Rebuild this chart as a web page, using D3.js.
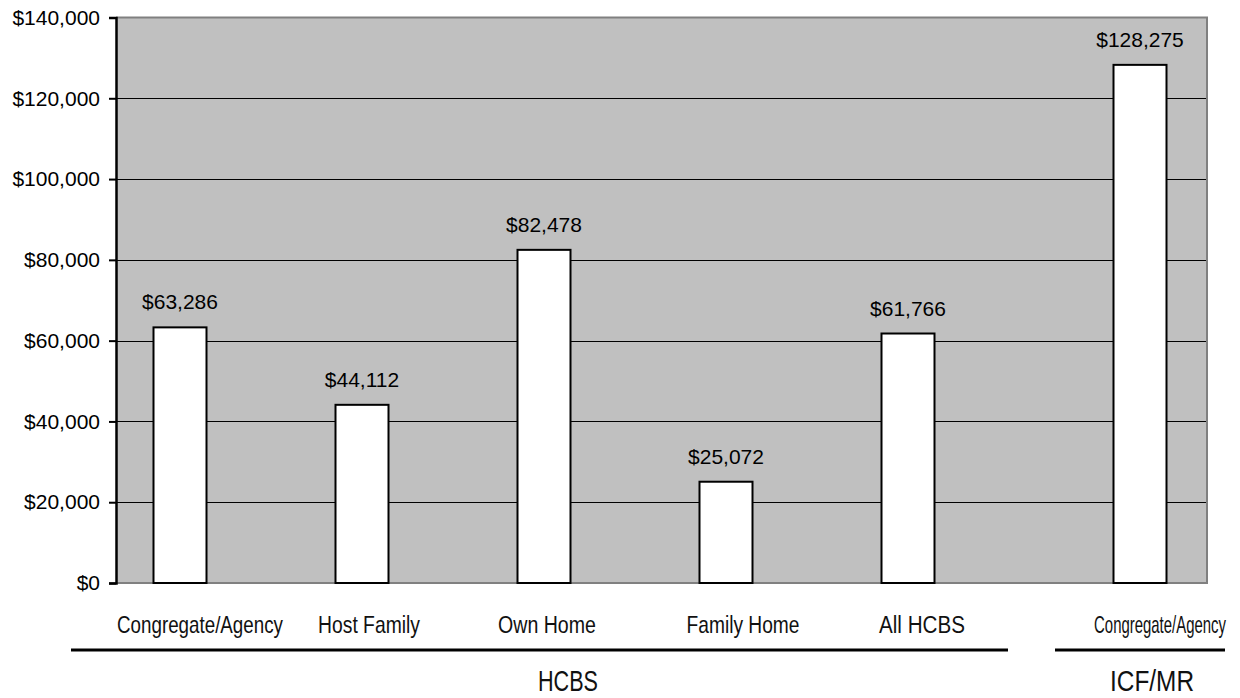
<!DOCTYPE html>
<html>
<head>
<meta charset="utf-8">
<script src="https://cdn.jsdelivr.net/npm/d3@7"></script>
<style>
  html, body { margin: 0; padding: 0; background: #ffffff; }
  svg { display: block; }
</style>
</head>
<body>
<svg id="chart" width="1240" height="698"></svg>
<script>
// ---- data ----
const hcbsCategories = ["Congregate/Agency", "Host Family", "Own Home", "Family Home", "All HCBS"];
const hcbsValues = [63286, 44112, 82478, 25072, 61766];
const icfCategories = ["Congregate/Agency"];
const icfValues = [128275];
const groupLabels = ["HCBS", "ICF/MR"];
const yTicks = [0, 20000, 40000, 60000, 80000, 100000, 120000, 140000];

// ---- layout ----
const plot = { left: 116, right: 1207, top: 17.5, bottom: 583 };
const barW = 53;
const svg = d3.select("#chart");
const narrow = "'Liberation Sans Narrow', 'Arial Narrow', 'Liberation Sans', Arial, sans-serif";
const sans = "'Liberation Sans', Arial, Helvetica, sans-serif";

const y = d3.scaleLinear().domain([0, 140000]).range([plot.bottom, plot.top]);
const xH = d3.scalePoint().domain(hcbsCategories).range([180, 908]);
const xI = d3.scalePoint().domain(icfCategories).range([1140, 1140]);

// plot background
svg.append("rect")
  .attr("x", plot.left).attr("y", plot.top)
  .attr("width", plot.right - plot.left).attr("height", plot.bottom - plot.top)
  .attr("fill", "#c0c0c0");

// gridlines
svg.append("g").selectAll("line")
  .data(yTicks.filter(t => t > 0 && t < 140000))
  .join("line")
  .attr("x1", plot.left).attr("x2", plot.right)
  .attr("y1", d => Math.round(y(d)) + 0.5).attr("y2", d => Math.round(y(d)) + 0.5)
  .attr("stroke", "#000").attr("stroke-width", 1);

// border top/right/bottom gray
svg.append("path")
  .attr("d", `M${plot.left},${plot.top} H${plot.right} V${plot.bottom} H${plot.left}`)
  .attr("fill", "none").attr("stroke", "#808080").attr("stroke-width", 2);

// y axis
const yAxis = d3.axisLeft(y).tickValues(yTicks).tickSize(7).tickPadding(9)
  .tickFormat(d => "$" + d3.format(",")(d));
const gy = svg.append("g").attr("transform", `translate(${plot.left},0)`).call(yAxis);
gy.select(".domain").attr("stroke", "#000").attr("stroke-width", 2.5);
gy.selectAll(".tick line").attr("stroke", "#000").attr("stroke-width", 2);
gy.selectAll(".tick text").attr("font-family", sans).attr("font-size", 21).attr("fill", "#000");

// bars
const allBars = hcbsCategories.map((c, i) => ({ x: xH(c), v: hcbsValues[i] }))
  .concat(icfCategories.map((c, i) => ({ x: xI(c), v: icfValues[i] })));

svg.append("g").selectAll("rect")
  .data(allBars)
  .join("rect")
  .attr("x", d => d.x - barW / 2)
  .attr("y", d => y(d.v))
  .attr("width", barW)
  .attr("height", d => y(0) - y(d.v))
  .attr("fill", "#fff").attr("stroke", "#000").attr("stroke-width", 2);

// value labels
svg.append("g").selectAll("text")
  .data(allBars)
  .join("text")
  .attr("x", d => d.x)
  .attr("y", d => y(d.v) - 18)
  .attr("text-anchor", "middle")
  .attr("font-family", sans).attr("font-size", 21).attr("fill", "#000")
  .text(d => "$" + d3.format(",")(d.v));

// helper: draw text horizontally compressed to a target width via a scale transform
function narrowText(g, text, cx, baseline, size, width) {
  const t = g.append("text")
    .attr("text-anchor", "middle")
    .attr("font-family", narrow).attr("font-size", size).attr("fill", "#111")
    .text(text);
  const natural = t.node().getComputedTextLength() || width;
  const sx = width / natural;
  t.attr("transform", `translate(${cx},${baseline}) scale(${sx},1)`);
  return t;
}

// category labels (narrow type, offset right of bar centres as in the source)
const hcbsLabelShift = [20, 7, 3, 17, 14];
const hcbsLabelWidth = [166, 102, 98, 113, 86];
const gCat = svg.append("g");
hcbsCategories.forEach((c, i) => narrowText(gCat, c, xH(c) + hcbsLabelShift[i], 633, 24, hcbsLabelWidth[i]));
icfCategories.forEach(c => narrowText(gCat, c, xI(c) + 20, 633, 24, 132));

// group brackets
svg.append("line").attr("x1", 71).attr("x2", 1008).attr("y1", 650).attr("y2", 650)
  .attr("stroke", "#000").attr("stroke-width", 3);
svg.append("line").attr("x1", 1055).attr("x2", 1225).attr("y1", 650).attr("y2", 650)
  .attr("stroke", "#000").attr("stroke-width", 3);

const gGrp = svg.append("g");
narrowText(gGrp, groupLabels[0], 568, 691, 29, 60);
narrowText(gGrp, groupLabels[1], 1152, 691, 29, 84);
</script>
</body>
</html>
